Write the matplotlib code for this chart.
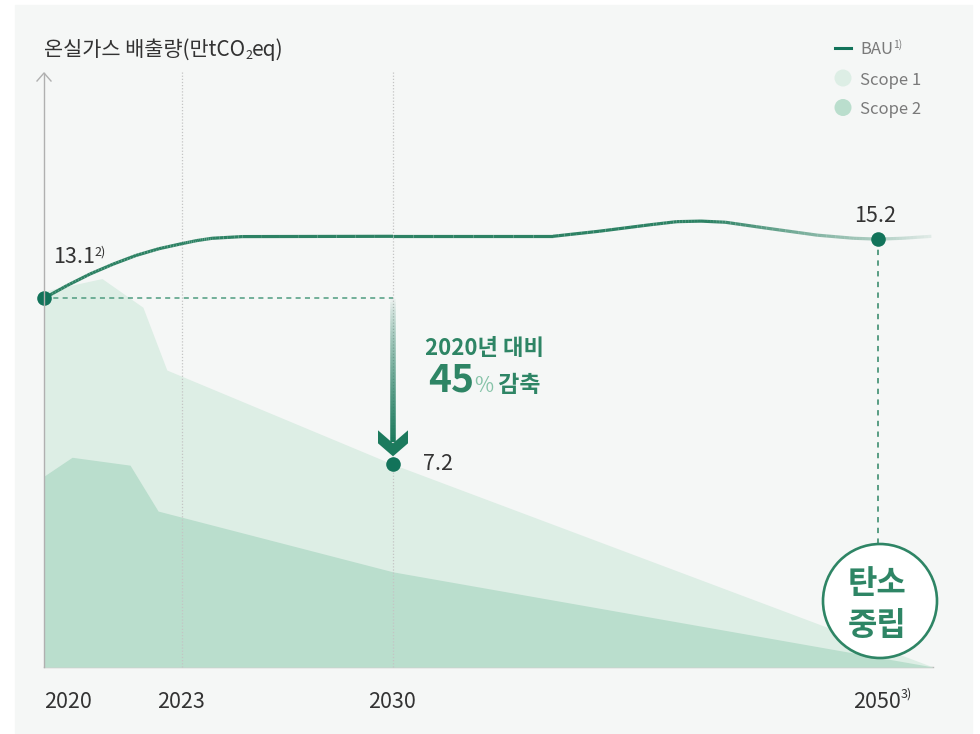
import numpy as np
import matplotlib
matplotlib.use("Agg")
import matplotlib.pyplot as plt
from matplotlib import transforms
from matplotlib.patches import Polygon, Circle, Rectangle
from matplotlib.collections import LineCollection
from matplotlib.lines import Line2D
from matplotlib.colors import to_rgba

plt.rcParams['font.family'] = ['Noto Sans CJK KR', 'DejaVu Sans']

# ---------------- data ----------------
title_main = '온실가스 배출량(만tCO'
title_sub = '2'
title_end = 'eq)'

tick_years = [2020, 2023, 2030, 2050]
tick_labels = ['2020', '2023', '2030', '2050']

bau_years = [2020, 2020.5, 2021, 2021.5, 2022, 2022.5, 2023, 2023.5, 2024, 2025,
             2030, 2036.6, 2038.5, 2040.6, 2041.7, 2042.7, 2043.7, 2045.4,
             2047.5, 2049, 2050, 2051, 2052.2]
bau_values = [13.1, 13.55, 13.96, 14.31, 14.62, 14.86, 15.04, 15.15, 15.23, 15.29,
              15.3, 15.3, 15.48, 15.71, 15.82, 15.84, 15.8, 15.59,
              15.34, 15.23, 15.2, 15.23, 15.3]

scope1_years = [2020, 2021.26, 2022.15, 2022.67, 2030, 2052.27]
scope1_values = [13.35, 13.8, 12.78, 10.55, 7.2, 0.0]
scope2_years = [2020, 2020.61, 2021.87, 2022.48, 2030, 2052.27]
scope2_values = [6.78, 7.45, 7.17, 5.54, 3.38, 0.0]

key_years = [2020, 2030, 2050]
key_values = [13.1, 7.2, 15.2]
key_labels = ['13.1', '7.2', '15.2']

legend_labels = ['BAU', 'Scope 1', 'Scope 2']
note_line1 = '2020년 대비'
note_pct = '45'
note_word = '감축'
badge_lines = ['탄소', '중립']

# ---------------- style ----------------
C_GREEN = '#2e8565'
C_LINE = '#2d8264'
C_DOT = '#12735a'
C_S1 = '#ddeee5'
C_S2 = '#badecd'
C_TEXT = '#333333'
C_GRAY = '#7a7a7a'

W, H = 980, 734
fig = plt.figure(figsize=(W / 100, H / 100), dpi=100)
fig.patch.set_facecolor('white')
PIX = transforms.Affine2D().scale(1, -1).translate(0, H)   # image-pixel coords

fig.add_artist(Rectangle((15, 5), 957, 728, transform=PIX, color='#f5f7f6', zorder=-10))

ax = fig.add_axes([44 / W, 1 - 667 / H, (933 - 44) / W, (667 - 70) / H])
ax.patch.set_alpha(0)
YR = [1900, 2020, 2023, 2030, 2050, 2200]
PXA = [44 - 120 * 46, 44, 182, 393, 878, 878 + 150 * 24.25]
fwd = lambda x: np.interp(x, YR, PXA)
inv = lambda p: np.interp(p, PXA, YR)
ax.set_xscale('function', functions=(fwd, inv))
XMAX = float(inv(933))
YMAX = 597 / 28.15
ax.set_xlim(2020, XMAX)
ax.set_ylim(0, YMAX)
ax.axis('off')


def topix(x, y):
    dx, dy = ax.transData.transform((x, y))
    return dx, H - dy


# baseline
ax.plot([2020, XMAX], [0, 0], color='#b8b8b8', lw=1, zorder=0.5, clip_on=False)
# areas
ax.fill_between(scope1_years, scope1_values, 0, color=C_S1, lw=0, zorder=1)
ax.fill_between(scope2_years, scope2_values, 0, color=C_S2, lw=0, zorder=2)
# gray guide lines
for yr in [2023, 2030]:
    ax.plot([yr, yr], [0, YMAX - 0.05], color='#c4c4c4', lw=0.9, ls=(0, (1, 1.5)), zorder=3, clip_on=False)
# y axis with arrow head
fig.add_artist(Line2D([44, 44], [667, 73], transform=PIX, color='#b0b0b0', lw=1, zorder=3))
fig.add_artist(Line2D([37, 44, 51], [81, 73, 81], transform=PIX, color='#b0b0b0', lw=1, zorder=3))

# BAU line with fading tail
bx = np.array(bau_years, float)
by = np.array(bau_values, float)
segs, cols = [], []
base = np.array(to_rgba(C_LINE))
n = 8
for i in range(len(bx) - 1):
    for k in range(n):
        t0, t1 = k / n, (k + 1) / n
        xa, xb = bx[i] + (bx[i + 1] - bx[i]) * t0, bx[i] + (bx[i + 1] - bx[i]) * t1
        ya, yb = by[i] + (by[i + 1] - by[i]) * t0, by[i] + (by[i + 1] - by[i]) * t1
        segs.append([(xa, ya), (xb, yb)])
        a = np.interp((xa + xb) / 2, [2020, 2043, 2047, 2050, 2052.3], [1, 1, 0.6, 0.35, 0.08])
        c = base.copy(); c[3] = a
        cols.append(c)
lc = LineCollection(segs, colors=cols, linewidths=2.3, capstyle='butt', zorder=5, clip_on=False)
ax.add_collection(lc)

# dashed guides
ax.plot([2020, 2030], [key_values[0], key_values[0]], color='#4f9c80', lw=1.1,
        ls=(0, (3.3, 2.8)), zorder=4)
cx50, cy50 = topix(2050, key_values[2])
badge_cx, badge_cy, badge_r = cx50 + 2, 601, 57
ytop_badge = ax.transData.inverted().transform((0, H - (badge_cy - badge_r)))[1]
ax.plot([2050, 2050], [key_values[2], ytop_badge], color=C_GREEN, lw=1.1,
        ls=(0, (3.5, 3.5)), zorder=4)

# arrow from 2020 level to 2030 value
ax20, ay20 = topix(2030, key_values[0])
ax30, ay30 = topix(2030, key_values[1])
ys = np.linspace(ay20 + 1, ay30 - 22, 60)
arr_rgb = np.array(to_rgba('#1c7a5d'))
aseg, acol = [], []
for j in range(len(ys) - 1):
    aseg.append([(ax30, ys[j]), (ax30, ys[j + 1])])
    c = arr_rgb.copy(); c[3] = 0.05 + 0.95 * (j / (len(ys) - 2)) ** 0.8
    acol.append(c)
fig.add_artist(LineCollection(aseg, colors=acol, linewidths=4.0, transform=PIX, zorder=6))
head = [(-15, -34), (0, -21), (15, -34), (15, -21), (0, -8), (-15, -21)]
fig.add_artist(Polygon([(ax30 + dx, ay30 + dy) for dx, dy in head], closed=True,
                       transform=PIX, color='#1c7a5d', lw=0, zorder=7))

# key points
ax.plot(key_years, key_values, 'o', ms=10.5, color=C_DOT, zorder=8, clip_on=False, mec='none')

renderer = fig.canvas.get_renderer()


def chain(x, y, parts, ha='left', zorder=10):
    texts = []
    cx = x
    for s, size, weight, color, dy in parts:
        t = fig.text(cx, y - dy, s, transform=PIX, fontsize=size, fontweight=weight,
                     color=color, va='baseline', ha='left', zorder=zorder)
        bb = t.get_window_extent(renderer)
        cx = bb.x1
        texts.append(t)
    if ha == 'center':
        shift = (cx - x) / 2
        for t in texts:
            px, py = t.get_position()
            t.set_position((px - shift, py))
    return texts


# title
chain(44, 56, [(title_main, 15, 'medium', C_TEXT, 0), (title_sub, 9, 'medium', C_TEXT, -3),
               (title_end, 15, 'medium', C_TEXT, 0)])

# legend
fig.add_artist(Line2D([835, 851], [48, 48], transform=PIX, color=C_DOT, lw=2.2))
chain(860, 54.5, [(legend_labels[0], 12, 'normal', C_GRAY, 0), ('1)', 7.5, 'normal', C_GRAY, 7)])
fig.add_artist(Circle((843, 78), 8.5, transform=PIX, color=C_S1, lw=0))
chain(860, 85, [(legend_labels[1], 12, 'normal', C_GRAY, 0)])
fig.add_artist(Circle((843, 107.5), 8.5, transform=PIX, color=C_S2, lw=0))
chain(860, 114.5, [(legend_labels[2], 12, 'normal', C_GRAY, 0)])

# value labels
x0, y0 = topix(key_years[0], key_values[0])
chain(x0 + 9, y0 - 35, [(key_labels[0], 15.5, 'medium', C_TEXT, 0), ('2)', 9, 'medium', C_TEXT, 8)])
x1, y1 = topix(key_years[1], key_values[1])
chain(x1 + 30, y1 + 6, [(key_labels[1], 15.5, 'medium', C_TEXT, 0)])
x2, y2 = topix(key_years[2], key_values[2])
chain(x2 - 3, y2 - 17, [(key_labels[2], 15.5, 'medium', C_TEXT, 0)], ha='center')

# reduction note
chain(425, 355, [(note_line1, 16, 'bold', C_GREEN, 0)])
chain(428, 392, [(note_pct, 28, 'bold', C_GREEN, 0), ('%', 15, 'normal', '#86c3a8', 0),
                 (' ' + note_word, 16.5, 'bold', C_GREEN, 0)])

# x tick labels
for yr, lab in zip(tick_years, tick_labels):
    tx, _ = topix(yr, 0)
    if yr == 2020:
        chain(tx, 708, [(lab, 15.5, 'medium', C_TEXT, 0)])
    elif yr == 2050:
        t = chain(tx - 1, 708, [(lab, 15.5, 'medium', C_TEXT, 0)], ha='center')
        bb = t[0].get_window_extent(renderer)
        chain(bb.x1, 708, [('3)', 9, 'medium', C_TEXT, 10)])
    else:
        chain(tx - 1, 708, [(lab, 15.5, 'medium', C_TEXT, 0)], ha='center')

# net-zero badge
fig.add_artist(Circle((badge_cx, badge_cy), badge_r, transform=PIX, facecolor='white',
                      edgecolor=C_GREEN, lw=1.9, zorder=9))
chain(badge_cx - 3, 593, [(badge_lines[0], 23, 'heavy', C_GREEN, 0)], ha='center', zorder=11)
chain(badge_cx - 3, 635, [(badge_lines[1], 23, 'heavy', C_GREEN, 0)], ha='center', zorder=11)

fig.savefig('out.png', dpi=100, facecolor='white')
